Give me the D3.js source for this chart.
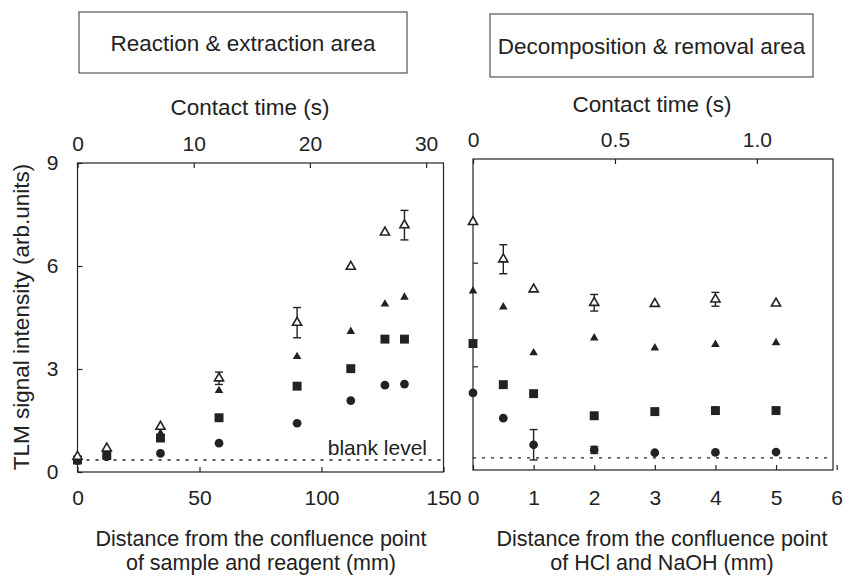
<!DOCTYPE html>
<html><head><meta charset="utf-8">
<script src="https://cdn.jsdelivr.net/npm/d3@7"></script>
<style>
body{margin:0;background:#fff}
text{font-family:"Liberation Sans",Arial,Helvetica,sans-serif;fill:#222}
</style>
</head><body>
<svg id="c" width="844" height="576"></svg>
<script>
// ---------- data ----------
const yTicks = [0, 3, 6, 9];
const blankLevel = 0.35;

const leftDistTicks = [0, 50, 100, 150];
const leftTimeTicks = [0, 10, 20, 30];
const rightDistTicks = [0, 1, 2, 3, 4, 5, 6];
const rightTimeTicks = [0, 0.5, 1.0];

const leftDist       = [0, 12, 34, 58, 90, 112, 126, 134];
const leftOpenTri    = [0.45, 0.69, 1.32, 2.73, 4.35, 5.98, 6.98, 7.19];
const leftOpenTriErr = [0, 0, 0, 0.18, 0.44, 0, 0, 0.43];
const leftFilledTri  = [0.42, 0.60, 1.13, 2.37, 3.36, 4.09, 4.89, 5.09];
const leftSquare     = [0.35, 0.48, 0.99, 1.58, 2.50, 3.01, 3.87, 3.87];
const leftCircle     = [0.33, 0.45, 0.54, 0.84, 1.42, 2.08, 2.53, 2.56];

const rightDist       = [0, 0.5, 1, 2, 3, 4, 5];
const rightOpenTri    = [7.18, 6.10, 5.23, 4.84, 4.81, 4.94, 4.82];
const rightOpenTriErr = [0, 0.42, 0, 0.24, 0, 0.20, 0];
const rightFilledTri  = [5.18, 4.72, 3.39, 3.82, 3.53, 3.63, 3.68];
const rightSquare     = [3.66, 2.47, 2.21, 1.57, 1.69, 1.72, 1.72];
const rightCircle     = [2.23, 1.50, 0.73, 0.58, 0.50, 0.51, 0.52];
const rightCircleErr  = [0, 0, 0.44, 0.10, 0, 0, 0];

const titles = ["Reaction & extraction area", "Decomposition & removal area"];
const topTitle = "Contact time (s)";
const yTitle = "TLM signal intensity (arb.units)";
const xTitlesLeft = ["Distance from the confluence point", "of sample and reagent (mm)"];
const xTitlesRight = ["Distance from the confluence point", "of HCl and NaOH (mm)"];

// ---------- drawing ----------
const svg = d3.select("#c");
const INK = "#222";

function panel(p) {
  const x = d3.scaleLinear().domain(p.xDomain).range([p.x0, p.x1]);
  const t = d3.scaleLinear().domain(p.tDomain).range([p.x0, p.x1]);
  const y = d3.scaleLinear().domain([0, 9]).range([p.y1, p.y0]);
  const g = svg.append("g").style("color", INK);

  // blank level dashed line
  g.append("line")
    .attr("x1", p.x0).attr("x2", p.x1)
    .attr("y1", y(blankLevel)).attr("y2", y(blankLevel))
    .attr("stroke", INK).attr("stroke-width", 1.3)
    .attr("stroke-dasharray", "3,6");

  const styleAxis = sel => {
    sel.select(".domain").remove();
    sel.selectAll("line").attr("stroke-width", 1.2);
    sel.selectAll("text").attr("font-size", 21).attr("font-family", null);
    sel.attr("font-family", null);
  };

  // bottom axis
  g.append("g").attr("transform", `translate(0,${p.y1})`)
    .call(d3.axisBottom(x).tickValues(p.xTicks).tickSize(-5)
      .tickPadding(p.padB).tickFormat(d3.format("d")))
    .call(styleAxis);

  // top axis
  g.append("g").attr("transform", `translate(0,${p.y0})`)
    .call(d3.axisTop(t).tickValues(p.tTicks).tickSize(-5)
      .tickPadding(12).tickFormat(p.tFormat))
    .call(styleAxis);

  // left axis
  g.append("g").attr("transform", `translate(${p.x0},0)`)
    .call(d3.axisLeft(y).tickValues(p.yTicks).tickSize(-5)
      .tickPadding(19).tickFormat(p.showY ? d3.format("d") : () => ""))
    .call(styleAxis);

  // frame
  g.append("rect")
    .attr("x", p.x0).attr("y", p.y0)
    .attr("width", p.x1 - p.x0).attr("height", p.y1 - p.y0)
    .attr("fill", "none").attr("stroke", INK).attr("stroke-width", 1.2);

  // error bars
  const errBars = (vals, errs) => {
    p.dist.forEach((d, i) => {
      const e = errs[i];
      if (!e) return;
      const cx = x(d), yt = y(vals[i] + e), yb = y(vals[i] - e);
      g.append("line").attr("x1", cx).attr("x2", cx).attr("y1", yt).attr("y2", yb)
        .attr("stroke", INK).attr("stroke-width", 1.4);
      [yt, yb].forEach(yy => g.append("line")
        .attr("x1", cx - 4).attr("x2", cx + 4).attr("y1", yy).attr("y2", yy)
        .attr("stroke", INK).attr("stroke-width", 1.4));
    });
  };
  errBars(p.openTri, p.openTriErr);
  if (p.circleErr) errBars(p.circle, p.circleErr);

  const series = [
    {vals: p.circle, type: d3.symbolCircle, size: 60, fill: INK},
    {vals: p.square, type: d3.symbolSquare, size: 80, fill: INK},
    {vals: p.filledTri, type: d3.symbolTriangle, size: 32, fill: INK},
    {vals: p.openTri, type: d3.symbolTriangle, size: 36, fill: "#fff", stroke: INK}
  ];
  series.forEach(s => {
    g.append("g").selectAll("path").data(p.dist).join("path")
      .attr("transform", (d, i) => `translate(${x(d)},${y(s.vals[i])})`)
      .attr("d", d3.symbol().type(s.type).size(s.size))
      .attr("fill", s.fill)
      .attr("stroke", s.stroke || "none")
      .attr("stroke-width", s.stroke ? 1.6 : 0);
  });

  // title box
  g.append("rect")
    .attr("x", p.box[0]).attr("y", p.box[1]).attr("width", p.box[2]).attr("height", p.box[3])
    .attr("fill", "none").attr("stroke", "#444").attr("stroke-width", 1.1);
  g.append("text").attr("x", p.box[0] + p.box[2] / 2).attr("y", p.box[1] + p.box[3] / 2 + 8)
    .attr("text-anchor", "middle").attr("font-size", 22.5).text(p.title);

  // top axis title
  g.append("text").attr("x", p.topTitleX).attr("y", p.topTitleY)
    .attr("text-anchor", "middle").attr("font-size", 22.5).text(topTitle);

  // bottom axis titles
  p.xTitles.forEach((s, i) => g.append("text")
    .attr("x", p.xTitleX).attr("y", 546 + i * 24)
    .attr("text-anchor", "middle").attr("font-size", 21.5).text(s));

  return {x, y, g};
}

const L = panel({
  x0: 77.5, x1: 443.5, y0: 163, y1: 472,
  xDomain: [0, 150], tDomain: [0, 31.5],
  xTicks: leftDistTicks, tTicks: leftTimeTicks, tFormat: d3.format("d"),
  yTicks: yTicks, showY: true, padB: 18,
  dist: leftDist, openTri: leftOpenTri, openTriErr: leftOpenTriErr,
  filledTri: leftFilledTri, square: leftSquare, circle: leftCircle,
  box: [79, 12, 328, 61], title: titles[0],
  topTitleX: 250, topTitleY: 115,
  xTitles: xTitlesLeft, xTitleX: 261
});

panel({
  x0: 473, x1: 833, y0: 159, y1: 470,
  xDomain: [0, 5.94], tDomain: [0, 1.268],
  xTicks: rightDistTicks, tTicks: rightTimeTicks, tFormat: d => d === 0 ? "0" : d3.format(".1f")(d),
  yTicks: [3, 6], showY: false, padB: 20,
  dist: rightDist, openTri: rightOpenTri, openTriErr: rightOpenTriErr,
  filledTri: rightFilledTri, square: rightSquare, circle: rightCircle, circleErr: rightCircleErr,
  box: [490, 14, 323, 63], title: titles[1],
  topTitleX: 652, topTitleY: 112,
  xTitles: xTitlesRight, xTitleX: 662
});

// blank level label
L.g.append("text").attr("x", 427).attr("y", L.y(blankLevel) - 5)
  .attr("text-anchor", "end").attr("font-size", 21).text("blank level");

// y axis title
svg.append("text").attr("transform", "translate(29,317) rotate(-90)")
  .attr("text-anchor", "middle").attr("font-size", 22.5).text(yTitle);
</script>
</body></html>
